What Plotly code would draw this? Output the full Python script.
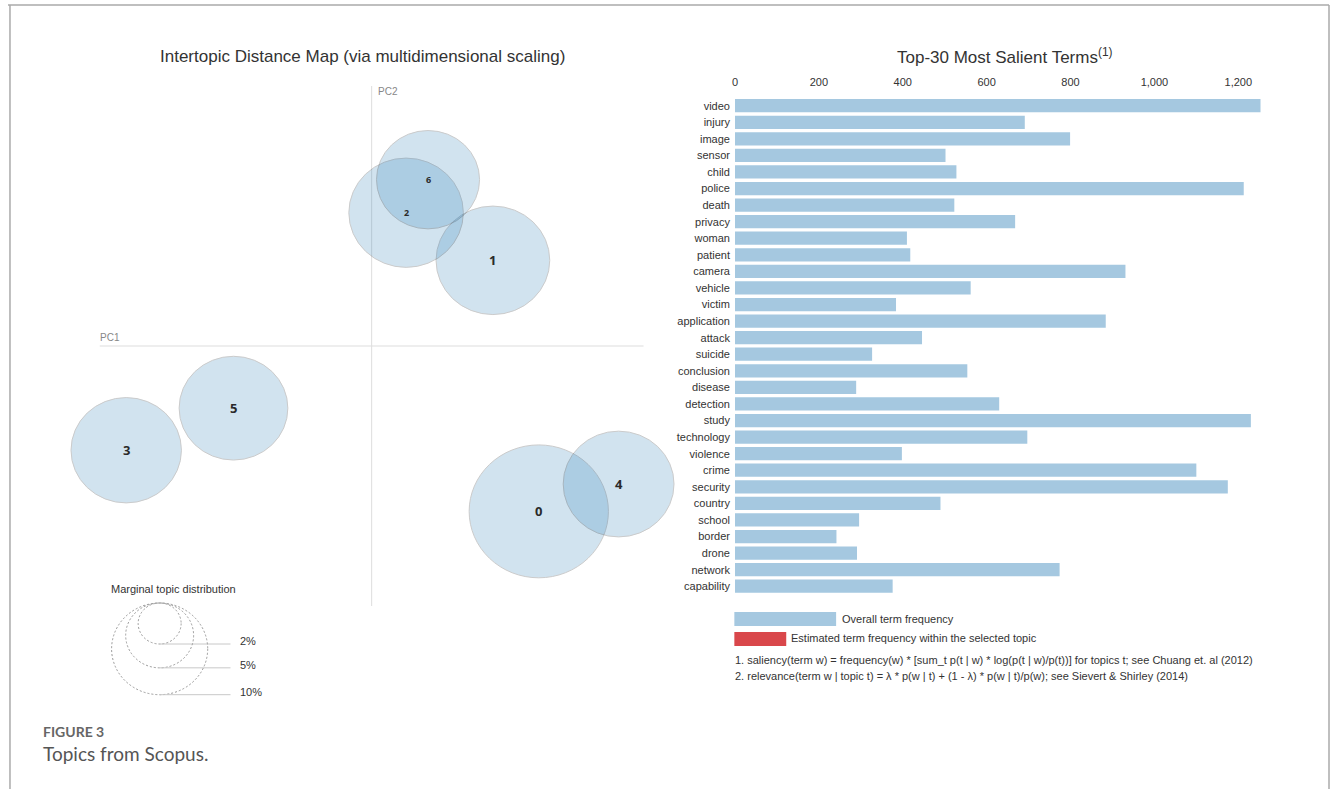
import math
import plotly.graph_objects as go

# ---------------- data ----------------
terms = ["video", "injury", "image", "sensor", "child", "police", "death", "privacy",
         "woman", "patient", "camera", "vehicle", "victim", "application", "attack",
         "suicide", "conclusion", "disease", "detection", "study", "technology",
         "violence", "crime", "security", "country", "school", "border", "drone",
         "network", "capability"]
term_freq = [1253, 691, 799, 502, 528, 1213, 523, 668, 410, 418, 931, 562, 384, 884, 446,
             327, 554, 289, 630, 1230, 697, 398, 1100, 1175, 490, 296, 242, 291, 774, 376]
freq_ticks = [0, 200, 400, 600, 800, 1000, 1200]

topics = ["0", "1", "2", "3", "4", "5", "6"]
topic_pc1 = [0.1675, 0.1215, 0.0345, -0.2460, 0.2475, -0.1385, 0.0565]
topic_pc2 = [-0.1737, 0.0900, 0.1400, -0.1095, -0.1450, -0.0653, 0.1747]
topic_pct = [21.0, 14.0, 14.2, 13.2, 13.3, 12.8, 11.5]

guide_pct = [2, 5, 10]
guide_labels = ["2%", "5%", "10%"]

# ---------------- geometry / style ----------------
W, H = 1331, 789
OX, OY = 369.5, 346.0          # pixel position of PC origin
KX, KY = 1000.0, 952.0         # pixels per PC unit
RK = 0.01523                   # radius (PC units) per sqrt(percent)

def dx(p):  # pixel x -> left data x
    return (p - OX) / KX

def dy(p):  # pixel y -> left data y
    return (OY - p) / KY

def px(p):
    return p / W

def py(p):
    return 1 - p / H

FONT = "Liberation Sans, Arial, sans-serif"
TXT = "#333333"

fig = go.Figure()

# invisible anchor trace for the left panel
fig.add_trace(go.Scatter(x=topic_pc1, y=topic_pc2, mode="markers",
                         marker=dict(size=1, opacity=0), hoverinfo="skip",
                         xaxis="x", yaxis="y", showlegend=False))

# bars
fig.add_trace(go.Bar(x=term_freq, y=terms, orientation="h", xaxis="x2", yaxis="y2",
                     marker=dict(color="#a5c8e0", line=dict(width=0)),
                     showlegend=False))

shapes = []
annotations = []

# frame
for (x0, y0, x1, y1) in [(5, 5, 1329, 5), (7, 5, 7, 789), (1329, 5, 1329, 789)]:
    shapes.append(dict(type="line", xref="paper", yref="paper",
                       x0=px(x0), y0=py(y0), x1=px(x1), y1=py(y1),
                       line=dict(color="#aaaaaa", width=1.5)))

# MDS axis lines
shapes.append(dict(type="line", xref="x", yref="y", x0=dx(97), x1=dx(642), y0=0, y1=0,
                   line=dict(color="#dddddd", width=1)))
shapes.append(dict(type="line", xref="x", yref="y", x0=0, x1=0, y0=dy(86), y1=dy(606),
                   line=dict(color="#dddddd", width=1)))

# topic circles
label_size = {"2": 9, "6": 9}
for t, cx, cy, p in zip(topics, topic_pc1, topic_pc2, topic_pct):
    r = RK * math.sqrt(p)
    shapes.append(dict(type="circle", xref="x", yref="y",
                       x0=cx - r, x1=cx + r, y0=cy - r, y1=cy + r,
                       fillcolor="#1f77b4", opacity=0.2,
                       line=dict(color="black", width=1)))
    annotations.append(dict(x=cx, y=cy, xref="x", yref="y", text="<b>" + t + "</b>",
                            showarrow=False,
                            font=dict(family="Open Sans, sans-serif",
                                      size=label_size.get(t, 13), color="#2a2a2a")))

# marginal topic distribution guide
gx = dx(157)
gtop = dy(603)
for p, lab in zip(guide_pct, guide_labels):
    r = RK * math.sqrt(p)
    cy = gtop - r
    shapes.append(dict(type="circle", xref="x", yref="y",
                       x0=gx - r, x1=gx + r, y0=cy - r, y1=cy + r,
                       fillcolor="rgba(0,0,0,0)",
                       line=dict(color="#999999", width=1, dash="2px,2px")))
    shapes.append(dict(type="line", xref="x", yref="y", x0=gx, x1=dx(228),
                       y0=cy - r, y1=cy - r, line=dict(color="#c8c8c8", width=1)))
    annotations.append(dict(x=dx(236), y=cy - r + 3 / KY, xref="x", yref="y", text=lab,
                            showarrow=False, xanchor="left", yanchor="middle",
                            font=dict(family=FONT, size=11, color=TXT)))

annotations.append(dict(x=px(106), y=py(589), xref="paper", yref="paper",
                        text="Marginal topic distribution", showarrow=False,
                        xanchor="left", yanchor="middle",
                        font=dict(family=FONT, size=11, color=TXT)))
annotations.append(dict(x=px(95), y=py(338), xref="paper", yref="paper", text="PC1",
                        showarrow=False, xanchor="left", yanchor="middle",
                        font=dict(family=FONT, size=10, color="#888888")))
annotations.append(dict(x=px(374), y=py(92), xref="paper", yref="paper", text="PC2",
                        showarrow=False, xanchor="left", yanchor="middle",
                        font=dict(family=FONT, size=10, color="#888888")))

# titles
annotations.append(dict(x=px(360), y=py(56), xref="paper", yref="paper",
                        text="Intertopic Distance Map (via multidimensional scaling)",
                        showarrow=False, xanchor="center", yanchor="middle",
                        font=dict(family=FONT, size=17, color=TXT)))
annotations.append(dict(x=px(1004), y=py(56), xref="paper", yref="paper",
                        text="Top-30 Most Salient Terms<sup>(1)</sup>",
                        showarrow=False, xanchor="center", yanchor="middle",
                        font=dict(family=FONT, size=17, color=TXT)))

# bar legend
shapes.append(dict(type="rect", xref="paper", yref="paper",
                   x0=px(733), x1=px(835), y0=py(612), y1=py(626),
                   fillcolor="#a5c8e0", line=dict(width=0)))
shapes.append(dict(type="rect", xref="paper", yref="paper",
                   x0=px(733), x1=px(785), y0=py(632), y1=py(646),
                   fillcolor="#d9474b", line=dict(width=0)))
annotations.append(dict(x=px(839), y=py(619), xref="paper", yref="paper",
                        text="Overall term frequency", showarrow=False,
                        xanchor="left", yanchor="middle",
                        font=dict(family=FONT, size=11, color=TXT)))
annotations.append(dict(x=px(788), y=py(638), xref="paper", yref="paper",
                        text="Estimated term frequency within the selected topic",
                        showarrow=False, xanchor="left", yanchor="middle",
                        font=dict(family=FONT, size=11, color=TXT)))
annotations.append(dict(x=px(732), y=py(660), xref="paper", yref="paper",
                        text="1. saliency(term w) = frequency(w) * [sum_t p(t | w) * "
                             "log(p(t | w)/p(t))] for topics t; see Chuang et. al (2012)",
                        showarrow=False, xanchor="left", yanchor="middle",
                        font=dict(family=FONT, size=11, color=TXT)))
annotations.append(dict(x=px(732), y=py(676), xref="paper", yref="paper",
                        text="2. relevance(term w | topic t) = \u03bb * p(w | t) + "
                             "(1 - \u03bb) * p(w | t)/p(w); see Sievert & Shirley (2014)",
                        showarrow=False, xanchor="left", yanchor="middle",
                        font=dict(family=FONT, size=11, color=TXT)))

# caption
annotations.append(dict(x=px(38), y=py(731), xref="paper", yref="paper",
                        text="<b>FIGURE 3</b>", showarrow=False,
                        xanchor="left", yanchor="middle",
                        font=dict(family="Lato, sans-serif", size=14, color="#666666")))
annotations.append(dict(x=px(38), y=py(753), xref="paper", yref="paper",
                        text="Topics from Scopus.", showarrow=False,
                        xanchor="left", yanchor="middle",
                        font=dict(family="Lato, sans-serif", size=19, color="#555555")))

X0_BAR, X1_BAR = 733.6, 1300.0
PX_PER_UNIT = 0.4204
ROW_TOP, ROW_BOT = 97.4, 594.5

fig.update_layout(
    width=W, height=H,
    margin=dict(l=0, r=0, t=0, b=0),
    paper_bgcolor="white", plot_bgcolor="rgba(0,0,0,0)",
    showlegend=False,
    font=dict(family=FONT, size=11, color=TXT),
    bargap=0.2,
    xaxis=dict(domain=[0, 1], range=[dx(0), dx(W)], visible=False, fixedrange=True),
    yaxis=dict(domain=[0, 1], range=[dy(H), dy(0)], visible=False, fixedrange=True),
    xaxis2=dict(domain=[px(X0_BAR), px(X1_BAR)],
                range=[0, (X1_BAR - X0_BAR) / PX_PER_UNIT],
                anchor="y2", side="top", tickvals=freq_ticks, tickformat=",",
                showgrid=False, zeroline=False, showline=False, ticks="",
                ticklabelstandoff=8,
                tickfont=dict(family=FONT, size=11, color=TXT), fixedrange=True),
    yaxis2=dict(domain=[py(ROW_BOT), py(ROW_TOP)], anchor="x2",
                categoryorder="array", categoryarray=terms, autorange="reversed",
                showgrid=False, zeroline=False, showline=False, ticks="",
                ticklabelstandoff=4,
                tickfont=dict(family=FONT, size=11, color=TXT), fixedrange=True),
    shapes=shapes,
    annotations=annotations,
)

fig.write_html("out.html", config={"displayModeBar": False})
